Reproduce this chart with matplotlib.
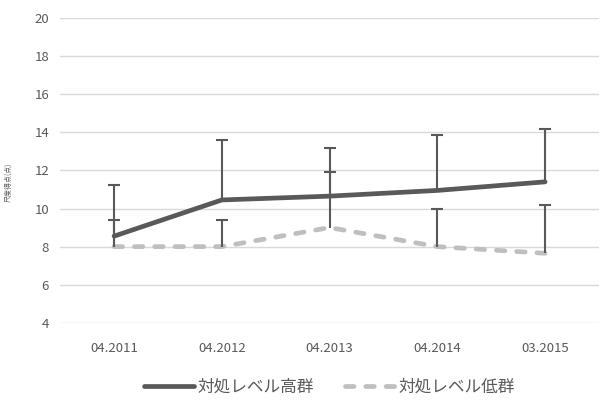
import numpy as np
import matplotlib.pyplot as plt

plt.rcParams['font.family'] = ['Noto Sans CJK JP', 'DejaVu Sans']

labels = ['04.2011', '04.2012', '04.2013', '04.2014', '03.2015']
high_name = '対処レベル高群'
low_name = '対処レベル低群'
high_values = [8.55, 10.45, 10.65, 10.95, 11.4]
low_values = [8.0, 8.0, 9.0, 8.0, 7.65]
high_err = [2.7, 3.15, 2.55, 2.9, 2.75]  # upper error only
low_err = [1.4, 1.4, 2.9, 2.0, 2.55]

x = np.arange(len(labels))
dark = '#595959'
light = '#BFBFBF'

fig, ax = plt.subplots(figsize=(6.02, 4.01), dpi=100)
fig.subplots_adjust(left=0.1, right=0.995, top=0.955, bottom=0.195)

ax.plot(x, high_values, color=dark, lw=3.4, solid_capstyle='round', label=high_name, zorder=3)
ax.plot(x, low_values, color=light, lw=3.4, ls=(0, (1.8, 2.5)), dash_capstyle='round', label=low_name, zorder=3)
for vals, err in [(high_values, high_err), (low_values, low_err)]:
    eb = ax.errorbar(x, vals, yerr=[np.zeros(5), err], fmt='none', ecolor=dark,
                     elinewidth=1.5, capsize=4, capthick=1.5, zorder=4)
    eb[1][0].set_visible(False)  # hide lower caps

ax.set_ylim(4, 20)
ax.set_yticks(np.arange(4, 21, 2))
ax.set_xlim(-0.5, 4.5)
ax.set_xticks(x, labels)
ax.grid(axis='y', color='#D9D9D9', lw=1)
ax.set_axisbelow(True)
for s in ax.spines.values():
    s.set_visible(False)
ax.tick_params(length=0, colors=dark, labelsize=9.5)
ax.tick_params(axis='x', pad=14)
ax.tick_params(axis='y', pad=8)

fig.text(0.008, 0.545, '尺度得点(点)', rotation=90, fontsize=5, color=dark, va='center', ha='left')

ax.legend(loc='upper center', bbox_to_anchor=(0.5, -0.135), ncol=2, frameon=False,
          fontsize=12, labelcolor=dark, handlelength=3, handletextpad=0.2, columnspacing=1.9)

plt.savefig('out.png')
